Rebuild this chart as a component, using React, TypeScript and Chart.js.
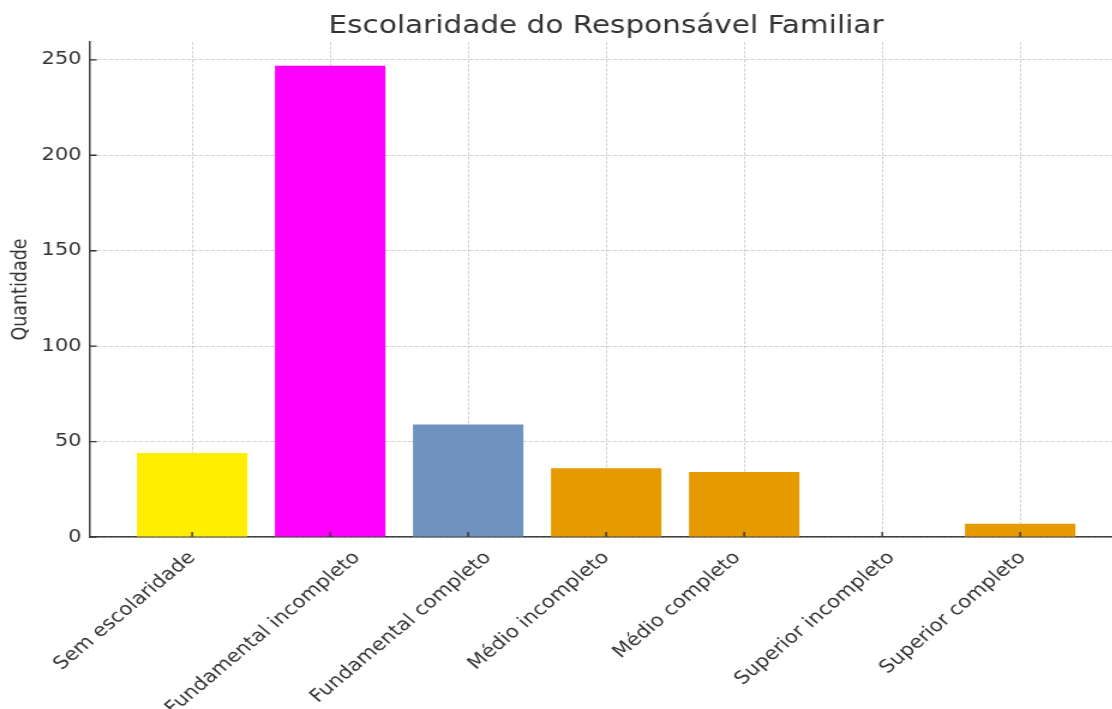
import { useEffect, useRef } from "react";
import { Chart, registerables } from "chart.js";

Chart.register(...registerables);

const categories = [
  "Sem escolaridade",
  "Fundamental incompleto",
  "Fundamental completo",
  "Médio incompleto",
  "Médio completo",
  "Superior incompleto",
  "Superior completo",
];
const quantities = [44, 247, 59, 36, 34, 0, 7];
const barColors = ["#ffee00", "#ff00ff", "#6f92bf", "#e59b00", "#e59b00", "#e59b00", "#e59b00"];
const yTicks = [0, 50, 100, 150, 200, 250];
const chartTitle = "Escolaridade do Responsável Familiar";
const yTitle = "Quantidade";

const S = 1.2; // horizontal stretch of the reference picture
const FONT = "'DejaVu Sans', sans-serif";
const TEXT = "#333333";
const X_MIN = -0.74;
const X_MAX = 7.39; // plot continues past the right edge of the picture
const LABEL_SIZE = 17.8;
const LABEL_SHIFT = -56; // label centre relative to its tick
const LABEL_PAD = 18;

const innerTicks = {
  id: "innerTicks",
  afterDraw(chart: any) {
    const { ctx, chartArea, scales } = chart;
    const x = scales.x;
    const y = scales.y;
    ctx.save();
    ctx.strokeStyle = TEXT;
    ctx.lineWidth = 1.4;
    ctx.beginPath();
    x.ticks.forEach((t: any) => {
      const px = x.getPixelForValue(t.value);
      ctx.moveTo(px, chartArea.bottom);
      ctx.lineTo(px, chartArea.bottom - 5);
    });
    y.ticks.forEach((t: any) => {
      const py = y.getPixelForValue(t.value);
      ctx.moveTo(chartArea.left, py);
      ctx.lineTo(chartArea.left + 5.5, py);
    });
    ctx.stroke();

    // rotated category labels, centred like the reference
    ctx.fillStyle = TEXT;
    ctx.font = `${LABEL_SIZE}px ${FONT}`;
    ctx.textAlign = "center";
    ctx.textBaseline = "middle";
    x.ticks.forEach((t: any) => {
      const label = categories[Math.round(t.value)];
      if (!label) return;
      const w = ctx.measureText(label).width;
      const px = x.getPixelForValue(t.value) + LABEL_SHIFT;
      const py = chartArea.bottom + LABEL_PAD + Math.SQRT1_2 * (w / 2);
      ctx.save();
      ctx.translate(px, py);
      ctx.rotate(-Math.PI / 4);
      ctx.fillText(label, 0, 0);
      ctx.restore();
    });
    ctx.restore();
  },
};

export default function App() {
  const ref = useRef<HTMLCanvasElement | null>(null);

  useEffect(() => {
    if (!ref.current) return;
    const maxVal = Math.max(...quantities) * 1.05;
    const chart = new Chart(ref.current, {
      type: "bar",
      data: {
        datasets: [
          {
            label: yTitle,
            data: quantities.map((v, i) => ({ x: i, y: v })),
            backgroundColor: barColors,
            borderWidth: 0,
            categoryPercentage: 1,
            barPercentage: 0.8,
          },
        ],
      },
      plugins: [innerTicks],
      options: {
        animation: false,
        responsive: true,
        maintainAspectRatio: false,
        layout: { padding: 0 },
        plugins: {
          legend: { display: false },
          tooltip: { enabled: false },
          title: {
            display: true,
            text: chartTitle,
            color: TEXT,
            font: { family: FONT, size: 24.6, weight: "normal", lineHeight: 1.1 },
            padding: { top: 13, bottom: 2 },
          },
        },
        scales: {
          x: {
            type: "linear",
            offset: false,
            min: X_MIN,
            max: X_MAX,
            z: 1,
            afterBuildTicks: (axis: any) => {
              axis.ticks = categories.map((_, i) => ({ value: i }));
            },
            afterFit: (axis: any) => {
              axis.height = 172;
            },
            grid: {
              offset: false,
              color: "rgba(176,176,176,0.7)",
              lineWidth: 0.8,
              drawTicks: false,
            },
            border: { display: true, color: "#404040", width: 1.5, dash: [3, 1.4] },
            ticks: {
              display: false,
              autoSkip: false,
            },
          },
          y: {
            type: "linear",
            min: 0,
            max: maxVal,
            z: 1,
            afterBuildTicks: (axis: any) => {
              axis.ticks = yTicks.map((v) => ({ value: v }));
            },
            afterFit: (axis: any) => {
              axis.width = 75;
            },
            grid: {
              color: "rgba(176,176,176,0.7)",
              lineWidth: 0.8,
              drawTicks: false,
            },
            border: { display: true, color: "#404040", width: 1.5, dash: [3.5, 1.5] },
            ticks: {
              padding: 7,
              color: TEXT,
              font: { family: FONT, size: 17.5 },
            },
            title: {
              display: true,
              text: yTitle,
              color: TEXT,
              font: { family: FONT, size: 17.5 },
              padding: { top: 7, bottom: 0 },
            },
          },
        },
      },
    } as any);
    return () => chart.destroy();
  }, []);

  return (
    <div
      style={{
        position: "fixed",
        left: 0,
        top: 0,
        width: 1112,
        height: 709,
        overflow: "hidden",
        background: "#ffffff",
      }}
    >
      <div
        style={{
          width: 1010,
          height: 709,
          transform: `scaleX(${S})`,
          transformOrigin: "0 0",
        }}
      >
        <canvas ref={ref} />
      </div>
    </div>
  );
}
